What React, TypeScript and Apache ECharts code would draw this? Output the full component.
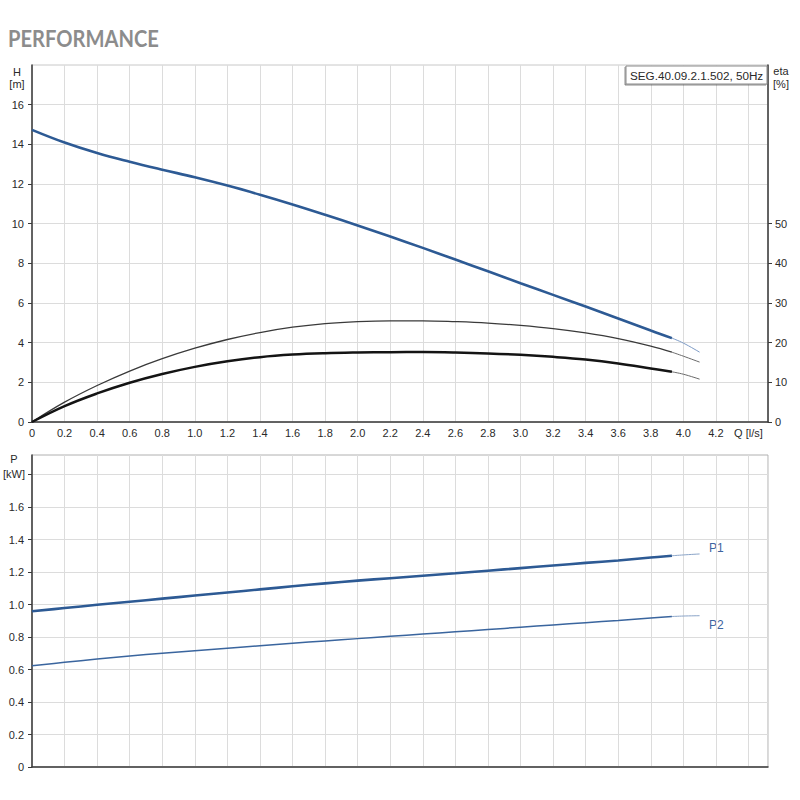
import React, { useEffect, useRef } from "react";
import * as echarts from "echarts";

// Flow Q [l/s]
const Q_MAIN = [0, 0.2, 0.4, 0.6, 0.8, 1.0, 1.2, 1.4, 1.6, 1.8, 2.0, 2.2, 2.4, 2.6, 2.8, 3.0, 3.2, 3.4, 3.6, 3.8, 3.93];
const Q_EXT = [3.93, 4.0, 4.1];

// Head H [m]
const H_MAIN = [14.73, 14.09, 13.56, 13.12, 12.72, 12.34, 11.92, 11.46, 10.97, 10.45, 9.91, 9.35, 8.78, 8.19, 7.6, 7.0, 6.41, 5.82, 5.22, 4.61, 4.23];
const H_EXT = [4.23, 3.98, 3.52];

// Efficiency eta [%] (upper thin curve)
const ETA1_MAIN = [0, 5.0, 9.2, 12.85, 15.95, 18.6, 20.8, 22.55, 23.9, 24.8, 25.3, 25.5, 25.5, 25.3, 24.95, 24.35, 23.55, 22.45, 21.0, 19.1, 17.6];
const ETA1_EXT = [17.6, 16.6, 15.1];

// Efficiency eta [%] (lower thick curve)
const ETA2_MAIN = [0, 4.0, 7.2, 9.9, 12.1, 13.9, 15.3, 16.35, 17.0, 17.35, 17.52, 17.6, 17.62, 17.52, 17.3, 16.94, 16.42, 15.74, 14.76, 13.5, 12.65];
const ETA2_EXT = [12.65, 12.05, 10.8];

// Power P [kW]
const P1_MAIN = [0.958, 0.978, 0.998, 1.017, 1.036, 1.055, 1.074, 1.093, 1.112, 1.13, 1.147, 1.162, 1.177, 1.192, 1.208, 1.224, 1.24, 1.256, 1.271, 1.289, 1.3];
const P1_EXT = [1.3, 1.305, 1.311];
const P2_MAIN = [0.623, 0.644, 0.664, 0.683, 0.7, 0.716, 0.731, 0.746, 0.761, 0.776, 0.79, 0.804, 0.818, 0.832, 0.846, 0.86, 0.874, 0.888, 0.902, 0.917, 0.926];
const P2_EXT = [0.926, 0.929, 0.931];

const H_LABELS = [0, 2, 4, 6, 8, 10, 12, 14, 16];
const ETA_LABELS = [0, 10, 20, 30, 40, 50];
const P_TICKS = [0, 0.2, 0.4, 0.6, 0.8, 1.0, 1.2, 1.4, 1.6, 1.8];

const TITLE = "PERFORMANCE";
const PUMP = "SEG.40.09.2.1.502, 50Hz";

const pairs = (q: number[], v: number[]) => q.map((x, i) => [x, v[i]]);

const FONT = "'Liberation Sans', Arial, sans-serif";
const LABEL_COLOR = "#2a2a2a";
const GRID_COLOR = "#dcdcdc";
const AXIS_COLOR = "#3a3a3a";

export default function App() {
  const ref = useRef<HTMLDivElement>(null);
  useEffect(() => {
    if (!ref.current) return;
    const chart = echarts.init(ref.current, null, { renderer: "svg" });
    const xFmt = (v: number) => {
      if (Math.abs(v - 4.4) < 1e-6) return "Q [l/s]";
      if (v > 4.41) return "";
      return v === 0 ? "0" : v.toFixed(1);
    };
    const line = (name: string, x: number, y: number, data: number[][], color: string, width: number) => ({
      type: "line",
      name,
      xAxisIndex: x,
      yAxisIndex: y,
      data,
      smooth: 0.4,
      showSymbol: false,
      symbol: "none",
      lineStyle: { color, width },
      z: 5,
    });
    chart.setOption({
      animation: false,
      textStyle: { fontFamily: FONT },
      grid: [
        { left: 32, right: 32, top: 65, height: 357, show: true, borderColor: "#c8c8c8", borderWidth: 1 },
        { left: 32, right: 32, top: 455, height: 312, show: true, borderColor: "#b0b0b0", borderWidth: 1 },
      ],
      xAxis: [
        {
          type: "value",
          gridIndex: 0,
          min: 0,
          max: 4.52,
          interval: 0.2,
          axisLine: { show: true, onZero: false, lineStyle: { color: AXIS_COLOR, width: 1.5 } },
          axisTick: { show: false },
          axisLabel: { formatter: xFmt, color: LABEL_COLOR, fontSize: 11, margin: 5, fontFamily: FONT },
          splitLine: { show: true, lineStyle: { color: GRID_COLOR, width: 1 } },
        },
        {
          type: "value",
          gridIndex: 1,
          min: 0,
          max: 4.52,
          interval: 0.2,
          axisLine: { show: true, onZero: false, lineStyle: { color: AXIS_COLOR, width: 1.5 } },
          axisTick: { show: false },
          axisLabel: { show: false },
          splitLine: { show: true, lineStyle: { color: GRID_COLOR, width: 1 } },
        },
      ],
      yAxis: [
        {
          type: "value",
          gridIndex: 0,
          position: "left",
          min: 0,
          max: 18,
          interval: 2,
          axisLine: { show: true, onZero: false, lineStyle: { color: AXIS_COLOR, width: 1.5 } },
          axisTick: { show: true, length: 4, customValues: H_LABELS, lineStyle: { color: AXIS_COLOR } },
          axisLabel: { customValues: H_LABELS, color: LABEL_COLOR, fontSize: 11, margin: 8, fontFamily: FONT },
          splitLine: { show: true, lineStyle: { color: GRID_COLOR, width: 1 } },
        },
        {
          type: "value",
          gridIndex: 0,
          position: "right",
          min: 0,
          max: 90,
          interval: 10,
          axisLine: { show: true, onZero: false, lineStyle: { color: AXIS_COLOR, width: 1.5 } },
          axisTick: { show: true, length: 4, customValues: ETA_LABELS, lineStyle: { color: AXIS_COLOR } },
          axisLabel: { customValues: ETA_LABELS, color: LABEL_COLOR, fontSize: 11, margin: 7, fontFamily: FONT },
          splitLine: { show: false },
        },
        {
          type: "value",
          gridIndex: 1,
          position: "left",
          min: 0,
          max: 1.92,
          interval: 0.2,
          axisLine: { show: true, onZero: false, lineStyle: { color: AXIS_COLOR, width: 1.5 } },
          axisTick: { show: true, length: 4, customValues: P_TICKS, lineStyle: { color: AXIS_COLOR } },
          axisLabel: {
            customValues: P_TICKS.slice(0, 9),
            formatter: (v: number) => (v === 0 ? "0" : v.toFixed(1)),
            color: LABEL_COLOR,
            fontSize: 11,
            margin: 8,
            fontFamily: FONT,
          },
          splitLine: { show: true, lineStyle: { color: GRID_COLOR, width: 1 } },
        },
      ],
      series: [
        line("eta1", 0, 1, pairs(Q_MAIN, ETA1_MAIN), "#3a3a3a", 1.3),
        line("eta1ext", 0, 1, pairs(Q_EXT, ETA1_EXT), "#6a6a6a", 1),
        line("eta2", 0, 1, pairs(Q_MAIN, ETA2_MAIN), "#141414", 2.5),
        line("eta2ext", 0, 1, pairs(Q_EXT, ETA2_EXT), "#6a6a6a", 1),
        line("H", 0, 0, pairs(Q_MAIN, H_MAIN), "#2d5a94", 2.6),
        line("Hext", 0, 0, pairs(Q_EXT, H_EXT), "#7d9bc6", 1),
        line("P1", 1, 2, pairs(Q_MAIN, P1_MAIN), "#2d5a94", 2.6),
        line("P1ext", 1, 2, pairs(Q_EXT, P1_EXT), "#8aa4c8", 1),
        line("P2", 1, 2, pairs(Q_MAIN, P2_MAIN), "#3a659e", 1.5),
        line("P2ext", 1, 2, pairs(Q_EXT, P2_EXT), "#8aa4c8", 1),
      ],
      graphic: [
        {
          type: "text",
          x: 8,
          y: 27,
          scaleX: 0.915,
          style: { text: TITLE, font: "bold 22px Lato, 'Open Sans', sans-serif", fill: "#8c8c8c", verticalAlign: "top", align: "left" },
        },
        { type: "text", x: 17, y: 72, style: { text: "H", fontSize: 11, fontFamily: FONT, fill: LABEL_COLOR, align: "center", verticalAlign: "middle" } },
        { type: "text", x: 17, y: 83.5, style: { text: "[m]", fontSize: 11, fontFamily: FONT, fill: LABEL_COLOR, align: "center", verticalAlign: "middle" } },
        { type: "text", x: 781, y: 71, style: { text: "eta", fontSize: 11, fontFamily: FONT, fill: LABEL_COLOR, align: "center", verticalAlign: "middle" } },
        { type: "text", x: 781, y: 83.5, style: { text: "[%]", fontSize: 11, fontFamily: FONT, fill: LABEL_COLOR, align: "center", verticalAlign: "middle" } },
        { type: "text", x: 14, y: 459, style: { text: "P", fontSize: 11, fontFamily: FONT, fill: LABEL_COLOR, align: "center", verticalAlign: "middle" } },
        { type: "text", x: 14, y: 474, style: { text: "[kW]", fontSize: 11, fontFamily: FONT, fill: LABEL_COLOR, align: "center", verticalAlign: "middle" } },
        {
          type: "rect",
          shape: { x: 626, y: 66, width: 141, height: 18 },
          style: { fill: "#fff", stroke: "#8a8a8a", lineWidth: 1, shadowColor: "rgba(0,0,0,0.45)", shadowOffsetX: -1, shadowOffsetY: 1, shadowBlur: 1 },
          z: 10,
        },
        {
          type: "text",
          x: 630,
          y: 75.5,
          z: 11,
          style: { text: PUMP, fontSize: 11.7, fontFamily: FONT, fill: LABEL_COLOR, align: "left", verticalAlign: "middle" },
        },
        { type: "text", x: 709, y: 548, style: { text: "P1", fontSize: 12, fontFamily: FONT, fill: "#3d64a0", align: "left", verticalAlign: "middle" } },
        { type: "text", x: 709, y: 625, style: { text: "P2", fontSize: 12, fontFamily: FONT, fill: "#3d64a0", align: "left", verticalAlign: "middle" } },
      ],
    });
    return () => chart.dispose();
  }, []);
  return <div ref={ref} style={{ position: "fixed", left: 0, top: 0, width: 800, height: 800, background: "#fff" }} />;
}
